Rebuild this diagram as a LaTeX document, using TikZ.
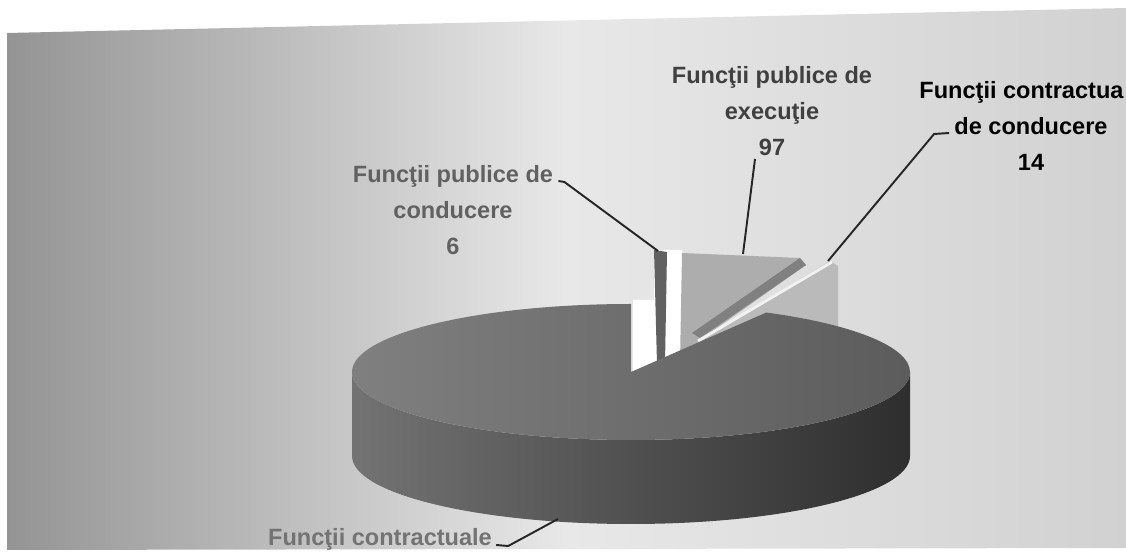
\documentclass[tikz,border=0pt]{standalone}
\usepackage{fontspec}
\setmainfont{Liberation Sans}

\begin{document}
\begin{tikzpicture}[x=0.02cm, y=-0.02cm,
    lbl/.style={font=\bfseries\fontsize{13.4}{20.5}\selectfont, align=center, inner sep=0pt, anchor=north},
    leader/.style={black!85, line width=1.1pt}]
            \useasboundingbox (0,0) rectangle (1126,553);
            \clip (0,0) rectangle (1126,553);
            \shade[left color=black!42, right color=black!18, middle color=black!9] (7,33) -- (1126,8) -- (1126,548) -- (7,550) -- cycle;
            \coordinate (c) at (631,372);
            \fill[white] (633,300) -- (654,300) -- (654,250) -- (682,250) -- (682,376) -- (633,376) -- cycle;
            \fill[black!62] (654,250) -- (667,252) -- (665,364) -- (657,364) -- cycle;
            \fill[black!32] (682,253) -- (800,258) -- (806,265) -- (700,340) -- (680,362) -- cycle;
            \fill[black!50] (800,258) -- (806,265) -- (700,338) -- (692,333) -- cycle;
            \fill[black!27] (830,261) -- (838,266) -- (838,332) -- (700,352) -- (697,342) -- cycle;
            \draw[black!5, line width=1.6pt] (832,262) -- (698,341);
            \shade[left color=black!55, right color=black!82] (352,372) arc[start angle=180, end angle=0, x radius=279, y radius=68] -- ++(0,84) arc[start angle=0, end angle=180, x radius=279, y radius=68] -- cycle;
            \shade[left color=black!50, right color=black!64] (c) -- (631,304) arc[start angle=270, end angle=-61, x radius=279, y radius=68] -- cycle;
            \coordinate (t6) at (658,251);
            \coordinate (t97) at (743,254);
            \coordinate (t14) at (828,261);
            \coordinate (tbig) at (558,519);
            \node[lbl, text=black!62] (pdc) at (453,165) {Funcţii publice de\\conducere\\6};
            \node[lbl, text=black!75] (pde) at (772,66) {Funcţii publice de\\execuţie\\97};
            \node[lbl] (cdc) at (1031,81) {\makebox[127pt][l]{Funcţii contractua}\\de conducere\\14};
            \node[lbl, text=black!55] (cde) at (380,528) {Funcţii contractuale};
            \draw[leader] ([shift={(5,16)}]pdc.north east) -- ++(6,1) -- (t6);
            \draw[leader] ([shift={(-17,3)}]pde.south) -- (t97);
            \draw[leader] ([shift={(30,52)}]cdc.north west) -- ++(-15,1) -- (t14);
            \draw[leader] ([shift={(4,17)}]cde.north east) -- ++(12,1) -- (tbig);
        \end{tikzpicture}
\end{document}
